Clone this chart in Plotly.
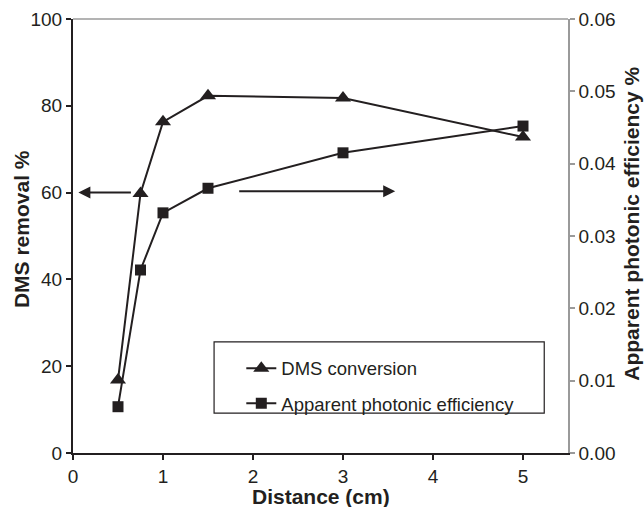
import plotly.graph_objects as go

distance = [0.5, 0.75, 1.0, 1.5, 3.0, 5.0]
dms_removal = [16.8, 59.8, 76.3, 82.3, 81.8, 72.8]
photonic_eff = [0.0064, 0.0253, 0.0332, 0.0366, 0.0415, 0.0452]

x_title = "Distance (cm)"
y_title = "DMS removal %"
y2_title = "Apparent photonic efficiency %"

left_arrow = dict(head_x=0.06, tail_x=0.66, y=60.0)
right_arrow = dict(head_x=3.58, tail_x=1.83, y=0.0362)

INK = "#231f20"
GREY = "#9a9a9a"
FONT = "Liberation Sans, Arial, sans-serif"
TITLE_SIZE = 21

fig = go.Figure()
fig.add_trace(go.Scatter(
    x=distance, y=dms_removal, name="DMS conversion", mode="lines+markers",
    line=dict(color=INK, width=2), marker=dict(symbol="triangle-up", size=14, color=INK),
    legendgroup="a", yaxis="y"))
fig.add_trace(go.Scatter(
    x=distance, y=photonic_eff, name="Apparent photonic efficiency", mode="lines+markers",
    line=dict(color=INK, width=2), marker=dict(symbol="square", size=11, color=INK),
    legendgroup="b", yaxis="y2"))

fig.add_annotation(x=left_arrow["head_x"], y=left_arrow["y"], ax=left_arrow["tail_x"], ay=left_arrow["y"],
                   xref="x", yref="y", axref="x", ayref="y", text="", showarrow=True,
                   arrowhead=2, arrowsize=1.2, arrowwidth=2, arrowcolor=INK)
fig.add_annotation(x=right_arrow["head_x"], y=right_arrow["y"], ax=right_arrow["tail_x"], ay=right_arrow["y"],
                   xref="x", yref="y2", axref="x", ayref="y2", text="", showarrow=True,
                   arrowhead=2, arrowsize=1.2, arrowwidth=2, arrowcolor=INK)

# axis titles
fig.add_annotation(text=f"<b>{x_title}</b>", xref="paper", yref="paper", x=0.5, y=-0.101,
                   xanchor="center", yanchor="middle", showarrow=False,
                   font=dict(size=TITLE_SIZE, family=FONT, color=INK))
fig.add_annotation(text=f"<b>{y_title}</b>", xref="paper", yref="paper", x=-0.105, y=0.516,
                   xanchor="center", yanchor="middle", showarrow=False, textangle=-90,
                   font=dict(size=TITLE_SIZE, family=FONT, color=INK))
fig.add_annotation(text=f"<b>{y2_title}</b>", xref="paper", yref="paper", x=1.129, y=0.528,
                   xanchor="center", yanchor="middle", showarrow=False, textangle=-90,
                   font=dict(size=TITLE_SIZE, family=FONT, color=INK))

fig.add_shape(type="rect", xref="paper", yref="paper", x0=0.285, x1=0.952, y0=0.092, y1=0.256,
              line=dict(color=INK, width=1.2), fillcolor="rgba(0,0,0,0)")
fig.add_shape(type="line", xref="paper", yref="paper", x0=0, x1=1, y0=1, y1=1,
              line=dict(color=GREY, width=1.5))

fig.update_layout(
    width=644, height=507,
    margin=dict(l=73, r=76, t=19, b=54, autoexpand=False),
    paper_bgcolor="white", plot_bgcolor="white",
    font=dict(family=FONT, color=INK, size=17),
    showlegend=True,
    legend=dict(x=0.34, y=0.238, xanchor="left", yanchor="top", bgcolor="rgba(0,0,0,0)",
                font=dict(size=18.5, family=FONT, color=INK), tracegroupgap=8),
    xaxis=dict(range=[0, 5.5], tickvals=[0, 1, 2, 3, 4, 5], showgrid=False, zeroline=False,
               showline=True, linecolor=INK, linewidth=2, ticks="outside", ticklen=5,
               tickcolor=INK, tickwidth=1.5, automargin=False, tickfont=dict(size=19)),
    yaxis=dict(range=[0, 100], tickvals=[0, 20, 40, 60, 80, 100], showgrid=False, zeroline=False,
               showline=True, linecolor=INK, linewidth=2, ticks="outside", ticklen=5,
               tickcolor=INK, tickwidth=1.5, automargin=False, tickfont=dict(size=19)),
    yaxis2=dict(range=[0, 0.06], tickvals=[0, 0.01, 0.02, 0.03, 0.04, 0.05, 0.06], tickformat=".2f",
                overlaying="y", side="right", showgrid=False, zeroline=False,
                showline=True, linecolor=GREY, linewidth=1.5, ticks="outside", ticklen=5,
                tickcolor=GREY, tickwidth=1.5, automargin=False, tickfont=dict(size=19)),
)

fig.write_html("out.html")
